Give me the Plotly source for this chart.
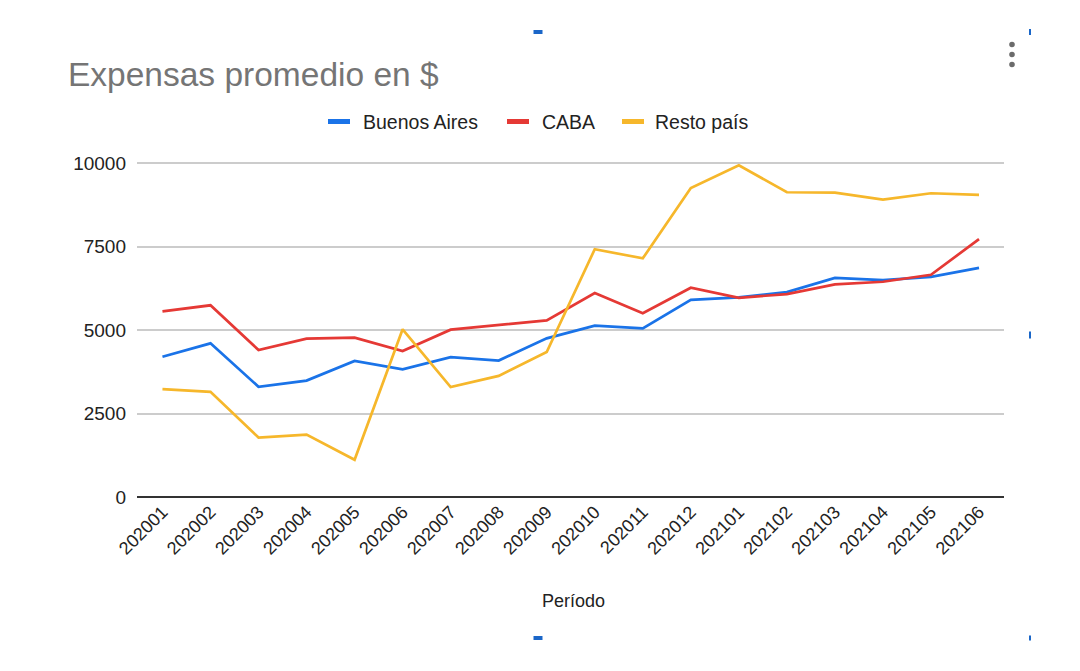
import plotly.graph_objects as go

periodos = ["202001", "202002", "202003", "202004", "202005", "202006",
            "202007", "202008", "202009", "202010", "202011", "202012",
            "202101", "202102", "202103", "202104", "202105", "202106"]
buenos_aires = [4200, 4600, 3300, 3485, 4075, 3825, 4185, 4085, 4750, 5130,
                5050, 5900, 5975, 6135, 6560, 6495, 6590, 6860]
caba = [5560, 5740, 4400, 4740, 4770, 4370, 5010, 5150, 5290, 6105,
        5500, 6265, 5965, 6075, 6365, 6445, 6655, 7720]
resto_pais = [3230, 3150, 1780, 1870, 1115, 5020, 3290, 3625, 4340, 7420,
              7145, 9250, 9930, 9125, 9115, 8905, 9095, 9045]
y_ticks = [0, 2500, 5000, 7500, 10000]
series_names = ["Buenos Aires", "CABA", "Resto país"]
series_colors = ["#1a73e8", "#e53935", "#f6b72b"]

FONT = "Liberation Sans, Arial, sans-serif"
W, H = 1080, 671
OFF = 8  # page body margin
L, T, R, B = 129, 150, 84, 182
PW, PH = W - L - R, H - T - B


def px(x):
    return (x - OFF - L) / PW


def py(y):
    return 1 - (y - OFF - T) / PH


fig = go.Figure()
for name, vals, col in zip(series_names, [buenos_aires, caba, resto_pais], series_colors):
    fig.add_trace(go.Scatter(x=periodos, y=vals, mode="lines", name=name,
                             line=dict(color=col, width=2.7), showlegend=False))

fig.update_layout(
    width=W, height=H,
    paper_bgcolor="white", plot_bgcolor="white",
    margin=dict(l=L, r=R, t=T, b=B),
    font=dict(family=FONT, color="#222222"),
    title=dict(text="Expensas promedio en $", x=(68 - OFF) / W, xanchor="left",
               y=1 - (74 - OFF) / H, yanchor="middle",
               font=dict(family=FONT, size=33.5, color="#757575")),
    xaxis=dict(type="category", range=[-0.53, 17.52], tickangle=-45,
               showgrid=False, showline=False, ticks="",
               tickfont=dict(size=18, color="#222222")),
    yaxis=dict(range=[0, 10150], tickvals=y_ticks,
               ticktext=[str(v) for v in y_ticks],
               showgrid=True, gridcolor="#cccccc", gridwidth=1.5,
               zeroline=True, zerolinecolor="#333333", zerolinewidth=2,
               showline=False, ticks="", ticklabelstandoff=10,
               tickfont=dict(size=19, color="#222222")),
    showlegend=False,
)

# legend (drawn manually: short thick swatches)
legend_swatch_x = [328, 507, 622]
legend_text_x = [361, 540, 653]
for name, col, sx, tx in zip(series_names, series_colors, legend_swatch_x, legend_text_x):
    fig.add_shape(type="rect", xref="paper", yref="paper",
                  x0=px(sx), x1=px(sx + 22), y0=py(124), y1=py(119),
                  fillcolor=col, line=dict(width=0))
    fig.add_annotation(text=name, xref="paper", yref="paper",
                       x=px(tx), y=py(122), showarrow=False,
                       xanchor="left", yanchor="middle",
                       font=dict(size=19.5, color="#222222", family=FONT))

# x-axis title
fig.add_annotation(text="Período", xref="paper", yref="paper",
                   x=px(573), y=py(601), showarrow=False,
                   xanchor="center", yanchor="middle",
                   font=dict(size=18, color="#222222", family=FONT))

# kebab menu dots
for cy in [44.5, 54.5, 64.5]:
    fig.add_shape(type="circle", xref="paper", yref="paper",
                  x0=px(1012 - 2.8), x1=px(1012 + 2.8),
                  y0=py(cy + 2.8), y1=py(cy - 2.8),
                  fillcolor="#6b6b6b", line=dict(width=0))

# small blue selection handles from the screenshot
for (cx, cy, w, h) in [(538, 32, 9, 4), (1030, 32, 2, 6), (1030, 335, 2, 7),
                       (538, 638, 9, 4), (1030, 638, 2, 5)]:
    fig.add_shape(type="rect", xref="paper", yref="paper",
                  x0=px(cx - w / 2), x1=px(cx + w / 2),
                  y0=py(cy + h / 2), y1=py(cy - h / 2),
                  fillcolor="#1a66c8", line=dict(width=0))

fig.write_html("out.html")
